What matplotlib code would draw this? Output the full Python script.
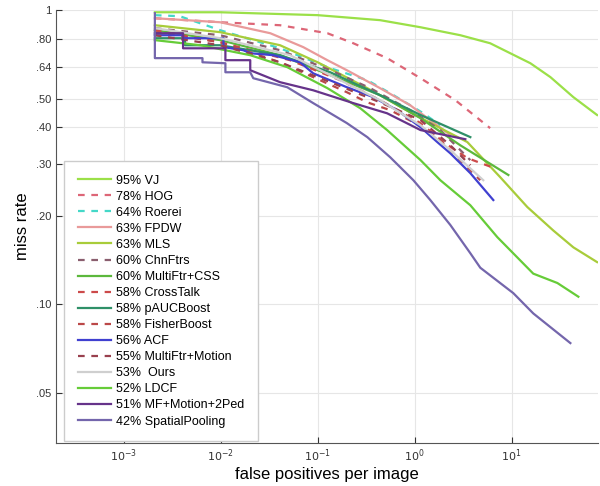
import matplotlib
matplotlib.use("Agg")
import matplotlib.pyplot as plt

plt.rcParams["font.family"] = ["Liberation Sans", "DejaVu Sans"]

# curvas (fppi, miss rate)
vj_x = [0.0021, 0.0099, 0.10, 0.44, 1.15, 2.96, 6.0, 15.6, 25.1, 43.3, 76]
vj_y = [0.984, 0.984, 0.962, 0.925, 0.875, 0.822, 0.772, 0.660, 0.592, 0.506, 0.440]

hog_x = [0.0021, 0.0099, 0.041, 0.126, 0.233, 0.52, 1.15, 2.63, 6.0]
hog_y = [0.939, 0.910, 0.889, 0.835, 0.772, 0.687, 0.587, 0.494, 0.397]

roerei_x = [0.0021, 0.0038, 0.0099, 0.041, 0.135, 0.325, 0.56, 0.90, 1.23, 1.84]
roerei_y = [0.962, 0.954, 0.855, 0.742, 0.635, 0.578, 0.522, 0.475, 0.446, 0.406]

fpdw_x = [0.0021, 0.0099, 0.0325, 0.071, 0.126, 0.20, 0.44, 0.90, 2.33]
fpdw_y = [0.939, 0.910, 0.835, 0.749, 0.676, 0.625, 0.543, 0.475, 0.376]

mls_x = [0.0021, 0.0099, 0.041, 0.10, 0.325, 0.90, 1.84, 3.49, 7.65, 14.5, 26.9, 43.3, 76]
mls_y = [0.889, 0.842, 0.760, 0.665, 0.543, 0.450, 0.397, 0.356, 0.270, 0.214, 0.178, 0.156, 0.139]

chn_x = [0.0021, 0.0099, 0.041, 0.135, 0.349, 0.90, 1.84, 3.75]
chn_y = [0.869, 0.822, 0.731, 0.625, 0.543, 0.457, 0.391, 0.309]

css_x = [0.0021, 0.0099, 0.041, 0.135, 0.44, 1.15, 2.96, 9.25]
css_y = [0.855, 0.791, 0.703, 0.601, 0.514, 0.429, 0.347, 0.275]

cross_x = [0.0021, 0.0099, 0.052, 0.171, 0.44, 1.15, 1.98, 3.49, 6.32]
cross_y = [0.855, 0.778, 0.676, 0.578, 0.494, 0.413, 0.356, 0.314, 0.292]

pauc_x = [0.0021, 0.0043, 0.0043, 0.0099, 0.041, 0.135, 0.44, 1.15, 3.75]
pauc_y = [0.803, 0.803, 0.760, 0.760, 0.703, 0.615, 0.514, 0.440, 0.370]

fisher_x = [0.0021, 0.0099, 0.041, 0.090, 0.20, 0.325, 0.56, 0.97, 1.71, 4.75]
fisher_y = [0.842, 0.778, 0.665, 0.592, 0.526, 0.486, 0.457, 0.416, 0.370, 0.264]

acf_x = [0.0021, 0.0041, 0.0041, 0.0107, 0.0107, 0.0171, 0.0202, 0.0349, 0.066,
         0.090, 0.20, 0.375, 0.66, 1.15, 1.71, 2.33, 3.75, 6.47]
acf_y = [0.822, 0.822, 0.803, 0.803, 0.749, 0.731, 0.714, 0.703, 0.665,
         0.610, 0.547, 0.506, 0.457, 0.400, 0.356, 0.326, 0.279, 0.226]

motion_x = [0.0021, 0.0099, 0.041, 0.135, 0.44, 1.15, 2.33, 3.75]
motion_y = [0.822, 0.760, 0.665, 0.569, 0.486, 0.423, 0.347, 0.297]

ours_x = [0.0021, 0.0099, 0.052, 0.171, 0.44, 1.15, 2.33, 5.1]
ours_y = [0.869, 0.803, 0.703, 0.578, 0.494, 0.406, 0.334, 0.264]

ldcf_x = [0.0021, 0.0062, 0.0202, 0.0486, 0.126, 0.275, 0.52, 1.15, 1.84, 3.75,
          7.12, 16.7, 29.6, 48.7]
ldcf_y = [0.791, 0.760, 0.703, 0.640, 0.543, 0.464, 0.391, 0.309, 0.264, 0.217,
          0.169, 0.127, 0.118, 0.106]

mf2ped_x = [0.0021, 0.0041, 0.0041, 0.0112, 0.0112, 0.0202, 0.0202, 0.041, 0.090,
            0.233, 0.52, 1.15, 3.33]
mf2ped_y = [0.835, 0.835, 0.742, 0.742, 0.676, 0.676, 0.625, 0.569, 0.534,
            0.483, 0.446, 0.391, 0.364]

sp_x = [0.0021, 0.0021, 0.0065, 0.0065, 0.0112, 0.0112, 0.0202, 0.0217, 0.0486,
        0.090, 0.145, 0.20, 0.325, 0.56, 0.97, 1.45, 2.33, 3.75, 4.75, 10.4, 16.7, 40.3]
sp_y = [0.977, 0.687, 0.687, 0.665, 0.660, 0.615, 0.615, 0.587, 0.547,
        0.483, 0.440, 0.413, 0.370, 0.316, 0.264, 0.226, 0.186, 0.149, 0.133,
        0.109, 0.093, 0.0737]

y_ticks = [0.05, 0.1, 0.2, 0.3, 0.4, 0.5, 0.64, 0.8, 1]
y_tick_labels = [".05", ".10", ".20", ".30", ".40", ".50", ".64", ".80", "1"]
x_ticks = [1e-3, 1e-2, 1e-1, 1, 10]
x_tick_labels = ["$10^{-3}$", "$10^{-2}$", "$10^{-1}$", "$10^{0}$", "$10^{1}$"]

# (x, y, rotulo, cor, tracejado)
curves = [
    (vj_x, vj_y, "95% VJ", "#9be048", False),
    (hog_x, hog_y, "78% HOG", "#dd6677", True),
    (roerei_x, roerei_y, "64% Roerei", "#44d8c8", True),
    (fpdw_x, fpdw_y, "63% FPDW", "#e99a9a", False),
    (mls_x, mls_y, "63% MLS", "#a8cc3a", False),
    (chn_x, chn_y, "60% ChnFtrs", "#8a5e6e", True),
    (css_x, css_y, "60% MultiFtr+CSS", "#5cb83c", False),
    (cross_x, cross_y, "58% CrossTalk", "#cc4a4a", True),
    (pauc_x, pauc_y, "58% pAUCBoost", "#2f9068", False),
    (fisher_x, fisher_y, "58% FisherBoost", "#bb4848", True),
    (acf_x, acf_y, "56% ACF", "#4040d0", False),
    (motion_x, motion_y, "55% MultiFtr+Motion", "#99404e", True),
    (ours_x, ours_y, "53%  Ours", "#cfcfcf", False),
    (ldcf_x, ldcf_y, "52% LDCF", "#66cc38", False),
    (mf2ped_x, mf2ped_y, "51% MF+Motion+2Ped", "#66338a", False),
    (sp_x, sp_y, "42% SpatialPooling", "#7466ac", False),
]

fig = plt.figure(figsize=(6, 4.86), dpi=100)
ax = fig.add_axes([0.093, 0.0885, 0.904, 0.8905])

for x, y, label, color, dashed in curves:
    if dashed:
        ax.plot(x, y, color=color, lw=1.6, dashes=(3, 3), label=label)
    else:
        ax.plot(x, y, color=color, lw=1.6, label=label)

ax.set_xscale("log")
ax.set_yscale("log")
ax.set_xlim(2e-4, 78)
ax.set_ylim(0.0337, 1)

ax.set_xticks(x_ticks)
ax.set_xticklabels(x_tick_labels)
ax.set_yticks(y_ticks)
ax.set_yticklabels(y_tick_labels)
ax.minorticks_off()
ax.tick_params(direction="in", length=4, labelsize=8, colors="#333333")

ax.grid(True, color="#e6e6e6", lw=0.8)
ax.set_axisbelow(True)
for side in ["top", "right"]:
    ax.spines[side].set_visible(False)
for side in ["left", "bottom"]:
    ax.spines[side].set_color("#555555")

ax.set_xlabel("false positives per image", fontsize=12, labelpad=2)
ax.set_ylabel("miss rate", fontsize=12, labelpad=4)

leg = ax.legend(loc="lower left", bbox_to_anchor=(0.015, 0.004), borderaxespad=0,
                fontsize=9, handlelength=2.7, handletextpad=0.35, labelspacing=0.325,
                borderpad=1.1, framealpha=1, fancybox=False, edgecolor="#cccccc")

plt.savefig("out.png")
